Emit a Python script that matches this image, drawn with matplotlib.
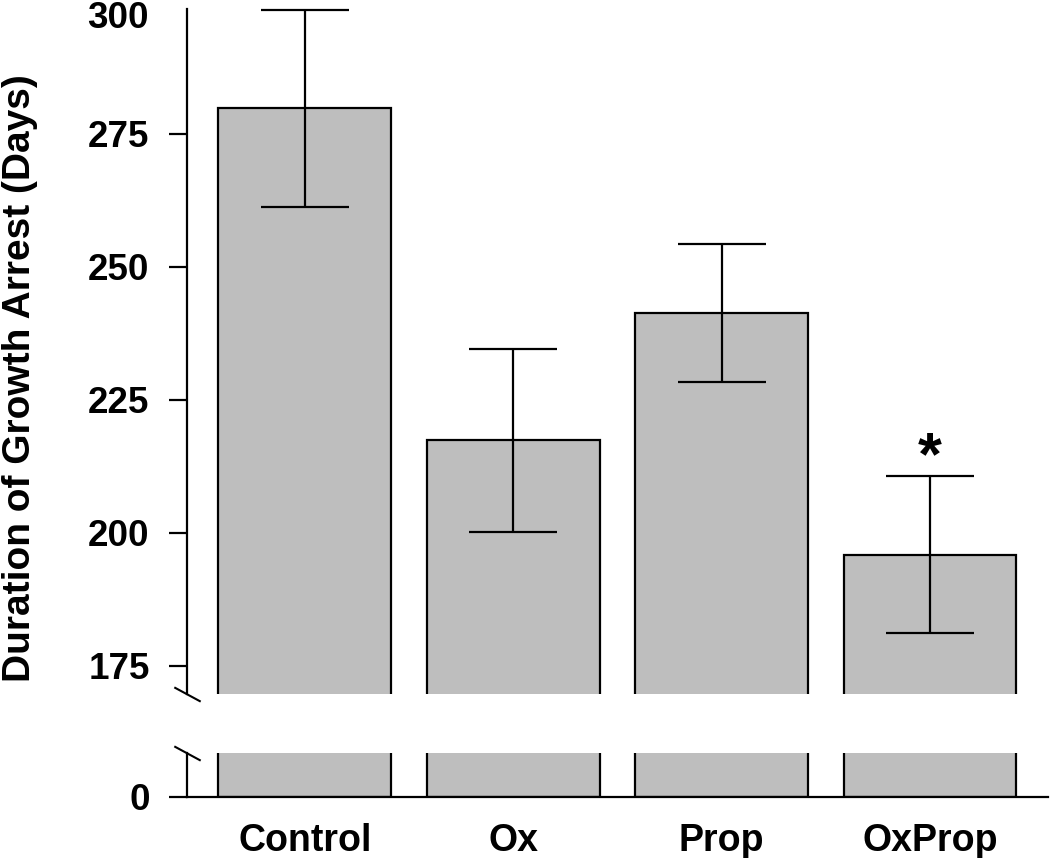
import numpy as np
import matplotlib
matplotlib.use("Agg")
import matplotlib.pyplot as plt

plt.rc("font", **{"family": "Liberation Sans", "weight": "bold"})

grupos = ["Control", "Ox", "Prop", "OxProp"]
medias = [279.8, 217.4, 241.4, 195.9]
errores = [18.6, 17.2, 13.0, 14.8]
ticks_y = [175, 200, 225, 250, 275]
gris = "#bebebe"

x = np.arange(len(grupos))
ancho = 0.83

fig = plt.figure(figsize=(10.5, 8.58), dpi=100)
ax = fig.add_axes([0.1781, 0.1911, 0.8199, 0.7984])
ax2 = fig.add_axes([0.1781, 0.0711, 0.8199, 0.0513])

for a in (ax, ax2):
    a.bar(x, medias, width=ancho, color=gris, edgecolor="k", linewidth=1.6, zorder=2)
    a.set_xlim(-0.566, 3.566)
    a.spines["top"].set_visible(False)
    a.spines["right"].set_visible(False)
    a.spines["left"].set_linewidth(1.6)
    a.tick_params(axis="y", length=13, width=1.6, pad=14, labelsize=26.5)

ax.errorbar(x, medias, yerr=errores, fmt="none", ecolor="k", elinewidth=1.6,
            capsize=31.5, capthick=1.6, zorder=3, clip_on=False)
ax.text(3, 214.0, "*", ha="center", va="center", fontsize=44, fontweight="bold")

ax.set_ylim(169.7, 298.5)
ax.set_yticks(ticks_y)
ax.spines["bottom"].set_visible(False)
ax.set_xticks([])
# la etiqueta 300 queda justo encima del eje
ax.text(-0.0441, 300, "300", transform=ax.get_yaxis_transform(), fontsize=26.5,
        ha="right", va="top", clip_on=False)

ax2.set_ylim(0, 8.27)
ax2.set_yticks([0])
ax2.spines["bottom"].set_linewidth(1.6)
ax2.set_xticks(x)
ax2.set_xticklabels(grupos, fontsize=27)
ax2.tick_params(axis="x", length=0, pad=19)

# marcas de corte
corte = dict(marker=[(-1, 0.54), (1, -0.54)], markersize=19, linestyle="none",
             color="k", mec="k", mew=1.5, clip_on=False)
ax.plot([0], [0], transform=ax.transAxes, **corte)
ax2.plot([0], [1], transform=ax2.transAxes, **corte)

fig.text(0.0195, 0.559, "Duration of Growth Arrest (Days)", rotation=90,
         ha="center", va="center", fontsize=28, fontweight="bold")

fig.savefig("out.png", dpi=100)
